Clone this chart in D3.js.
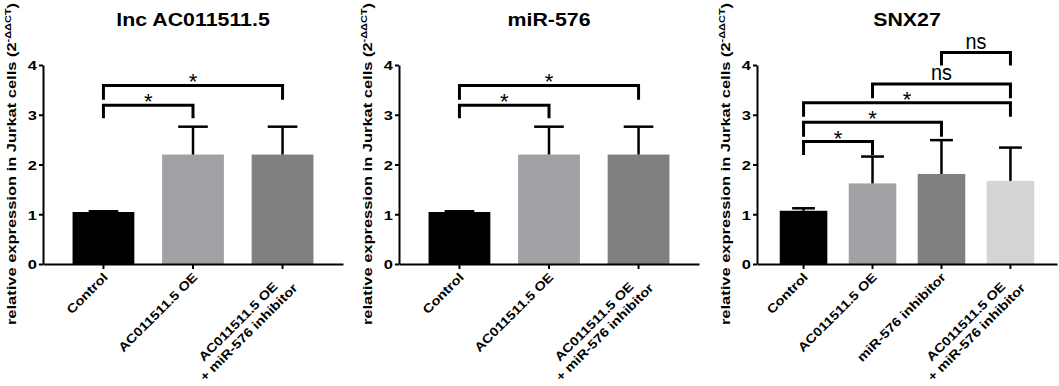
<!DOCTYPE html>
<html>
<head>
<meta charset="utf-8">
<script src="https://cdn.jsdelivr.net/npm/d3@7"></script>
<style>
  body { margin: 0; background: #fff; }
  svg { display: block; font-family: "Liberation Sans", Arial, sans-serif; }
</style>
</head>
<body>
<svg id="chart"></svg>
<script>
const width = 1059;
const height = 386;

// --- data ---
const titles = ["lnc AC011511.5", "miR-576", "SNX27"];

const catsThree = ["Control", "AC011511.5 OE", "AC011511.5 OE\n+ miR-576 inhibitor"];
const catsFour = ["Control", "AC011511.5 OE", "miR-576 inhibitor", "AC011511.5 OE\n+ miR-576 inhibitor"];

const lncMean = [1.045, 2.20, 2.20];
const lncSd = [0.015, 0.56, 0.56];
const mirMean = [1.045, 2.20, 2.20];
const mirSd = [0.015, 0.56, 0.56];
const snxMean = [1.07, 1.62, 1.81, 1.67];
const snxSd = [0.05, 0.54, 0.68, 0.67];

const colorsThree = ["#000000", "#a1a0a5", "#808080"];
const colorsFour = ["#000000", "#a1a0a5", "#808080", "#d4d4d4"];

const yTicks = [0, 1, 2, 3, 4];

// significance brackets (category index, bar top, leg bottom)
const lncBrackets = [
  { from: 0, to: 1, y: 3.19, drop: 2.93, label: "*" },
  { from: 0, to: 2, y: 3.59, drop: 3.30, label: "*" }
];
const mirBrackets = [
  { from: 0, to: 1, y: 3.19, drop: 2.93, label: "*" },
  { from: 0, to: 2, y: 3.59, drop: 3.30, label: "*" }
];
const snxBrackets = [
  { from: 0, to: 1, y: 2.46, drop: 2.19, label: "*" },
  { from: 0, to: 2, y: 2.85, drop: 2.56, label: "*" },
  { from: 0, to: 3, y: 3.24, drop: 2.96, label: "*" },
  { from: 1, to: 3, y: 3.62, drop: 3.33, label: "ns" },
  { from: 2, to: 3, y: 4.25, drop: 3.99, label: "ns" }
];

const panels = [
  { title: titles[0], cats: catsThree, mean: lncMean, sd: lncSd, colors: colorsThree, brackets: lncBrackets, x0: 43 },
  { title: titles[1], cats: catsThree, mean: mirMean, sd: mirSd, colors: colorsThree, brackets: mirBrackets, x0: 399 },
  { title: titles[2], cats: catsFour, mean: snxMean, sd: snxSd, colors: colorsFour, brackets: snxBrackets, x0: 757 }
];

const S = 1.22;          // glyphs in the figure are drawn wide
const SX = 1.17;         // a bit less for the slanted category labels
const axisW = 300;
const yBottom = 264, yTop = 65;

const svg = d3.select("#chart")
  .attr("width", width)
  .attr("height", height)
  .attr("viewBox", [0, 0, width, height]);

panels.forEach(p => {
  const g = svg.append("g");

  const x = d3.scaleBand()
    .domain(p.cats)
    .range([p.x0, p.x0 + axisW])
    .paddingInner(0.31)
    .paddingOuter(0.33);

  const y = d3.scaleLinear()
    .domain([0, 4])
    .range([yBottom, yTop]);

  // --- bars ---
  g.selectAll(".bar")
    .data(p.cats)
    .join("rect")
    .attr("class", "bar")
    .attr("x", d => x(d))
    .attr("width", x.bandwidth())
    .attr("y", (d, i) => y(p.mean[i]))
    .attr("height", (d, i) => y(0) - y(p.mean[i]))
    .attr("fill", (d, i) => p.colors[i]);

  // --- error bars (upper only) ---
  const capW = x.bandwidth() * 0.48;
  const eb = g.selectAll(".err")
    .data(p.cats)
    .join("g")
    .attr("class", "err")
    .attr("stroke", "#000")
    .attr("stroke-width", 2.5);
  eb.append("line")
    .attr("x1", d => x(d) + x.bandwidth() / 2)
    .attr("x2", d => x(d) + x.bandwidth() / 2)
    .attr("y1", (d, i) => y(p.mean[i]))
    .attr("y2", (d, i) => y(p.mean[i] + p.sd[i]));
  eb.append("line")
    .attr("x1", d => x(d) + x.bandwidth() / 2 - capW / 2)
    .attr("x2", d => x(d) + x.bandwidth() / 2 + capW / 2)
    .attr("y1", (d, i) => y(p.mean[i] + p.sd[i]))
    .attr("y2", (d, i) => y(p.mean[i] + p.sd[i]));

  // --- axes ---
  const yAxis = g.append("g")
    .attr("transform", `translate(${p.x0},0)`)
    .call(d3.axisLeft(y).tickValues(yTicks).tickSize(4).tickSizeOuter(0).tickFormat(d3.format("d")));
  yAxis.select(".domain").attr("stroke-width", 2);
  yAxis.selectAll(".tick line").attr("stroke-width", 2);
  yAxis.selectAll(".tick text").remove();
  yAxis.selectAll(".tick").append("text")
    .attr("transform", `translate(-6,0) scale(${S},1)`)
    .attr("dy", "0.36em")
    .attr("text-anchor", "end")
    .attr("font-size", 13.5)
    .attr("font-weight", "bold")
    .attr("fill", "#000")
    .text(d => d);

  const xAxis = g.append("g")
    .attr("transform", `translate(0,${yBottom})`)
    .call(d3.axisBottom(x).tickSize(5).tickSizeOuter(0).tickFormat(""));
  xAxis.select(".domain").attr("stroke-width", 2);
  xAxis.selectAll(".tick line").attr("stroke-width", 2);

  // --- rotated category labels ---
  p.cats.forEach(c => {
    const lines = c.split("\n");
    const outer = g.append("g")
      .attr("transform", `translate(${x(c) + x.bandwidth() / 2 - 2},${yBottom + 7}) rotate(-45)`);
    const inner = outer.append("g").attr("transform", `scale(${SX},1)`);
    const texts = lines.map((t, i) => inner.append("text")
      .attr("y", 10 + i * 15)
      .attr("text-anchor", "middle")
      .attr("font-size", 12.5)
      .attr("font-weight", "bold")
      .text(t));
    const maxW = d3.max(texts, t => t.node().getComputedTextLength());
    texts.forEach(t => t.attr("x", -maxW / 2));
  });

  // --- title ---
  g.append("text")
    .attr("transform", `translate(${p.x0 + axisW / 2},25.5) scale(${S},1)`)
    .attr("text-anchor", "middle")
    .attr("font-size", 17.5)
    .attr("font-weight", "bold")
    .text(p.title);

  // --- y label ---
  const yl = g.append("text")
    .attr("transform", `translate(${p.x0 - 27},164) rotate(-90) scale(${S},1)`)
    .attr("text-anchor", "middle")
    .attr("font-size", 13.5)
    .attr("font-weight", "bold");
  yl.append("tspan").text("relative expression in Jurkat cells (2");
  yl.append("tspan").attr("dy", -5).attr("font-size", 9).text("-ΔΔCT");
  yl.append("tspan").attr("dy", 5).text(")");

  // --- significance brackets ---
  const cx = i => x(p.cats[i]) + x.bandwidth() / 2;
  g.selectAll(".bracket")
    .data(p.brackets)
    .join("path")
    .attr("class", "bracket")
    .attr("fill", "none")
    .attr("stroke", "#000")
    .attr("stroke-width", 3)
    .attr("d", d => `M${cx(d.from)},${y(d.drop)}V${y(d.y)}H${cx(d.to)}V${y(d.drop)}`);

  g.selectAll(".sig")
    .data(p.brackets)
    .join("text")
    .attr("class", "sig")
    .attr("transform", d => d.label === "ns"
      ? `translate(${(cx(d.from) + cx(d.to)) / 2},${y(d.y) - 4}) scale(0.9,1)`
      : `translate(${(cx(d.from) + cx(d.to)) / 2},${y(d.y) + 4})`)
    .attr("text-anchor", "middle")
    .attr("font-size", 22)
    .text(d => d.label);
});
</script>
</body>
</html>
